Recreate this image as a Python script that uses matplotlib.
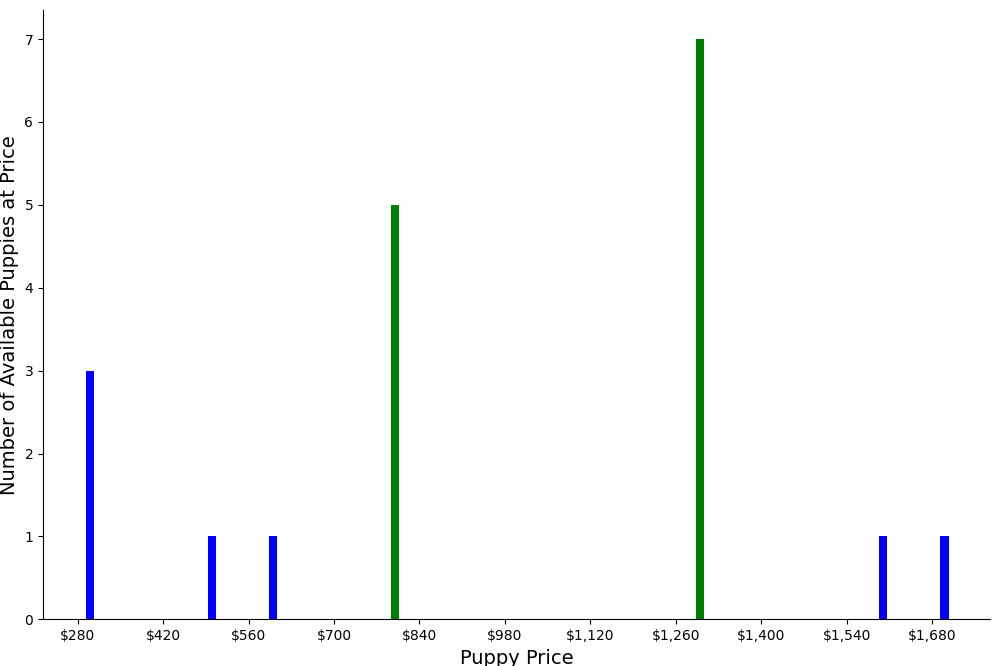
import matplotlib
matplotlib.use("Agg")
import matplotlib.pyplot as plt
from matplotlib.ticker import FuncFormatter, MultipleLocator

prices = [300, 500, 600, 800, 1300, 1600, 1700]
counts = [3, 1, 1, 5, 7, 1, 1]
colors = ["blue", "blue", "blue", "green", "green", "blue", "blue"]

fig, ax = plt.subplots(figsize=(10, 6.66), dpi=100)
ax.bar(prices, counts, width=14, color=colors)
ax.set_xlim(223, 1775)
ax.set_ylim(0, 7.35)
ax.xaxis.set_major_locator(MultipleLocator(140))
ax.xaxis.set_major_formatter(FuncFormatter(lambda v, p: f"${v:,.0f}"))
ax.set_xlabel("Puppy Price", fontsize=14)
ax.set_ylabel("Number of Available Puppies at Price", fontsize=14)
ax.spines["top"].set_visible(False)
ax.spines["right"].set_visible(False)
plt.subplots_adjust(left=0.043, right=0.99, top=0.985, bottom=0.07)
fig.savefig("out.png")
